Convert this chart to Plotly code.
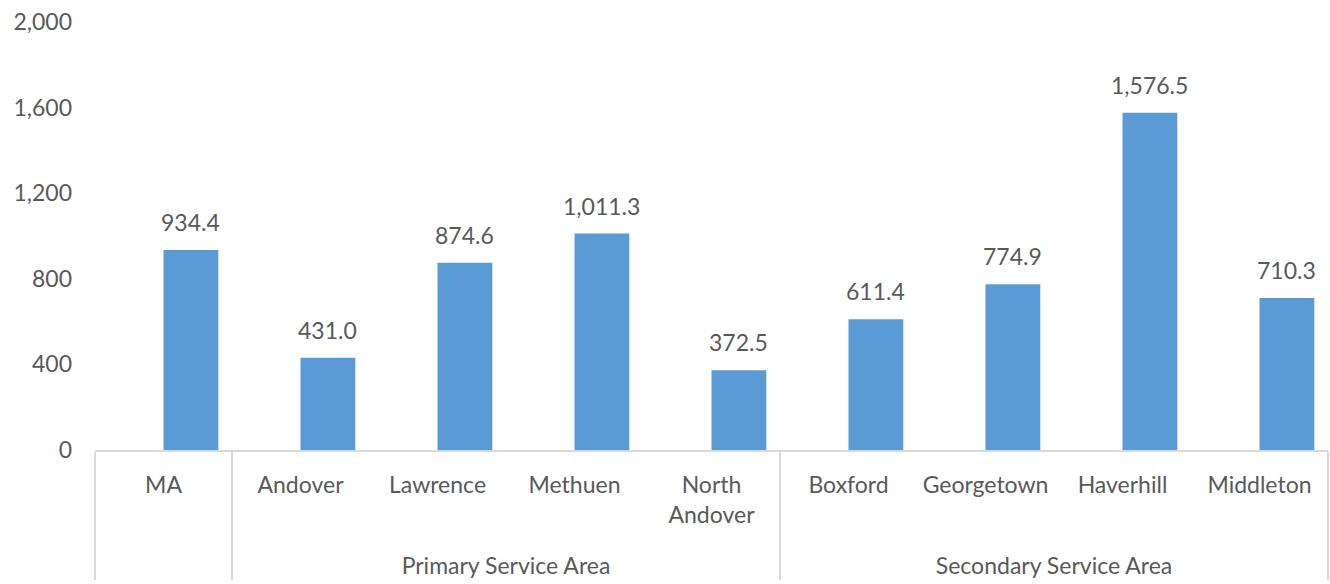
import plotly.graph_objects as go

# Service-area groups, towns and their values
groups = ["", "Primary Service Area", "Primary Service Area", "Primary Service Area",
          "Primary Service Area", "Secondary Service Area", "Secondary Service Area",
          "Secondary Service Area", "Secondary Service Area"]
towns = ["MA", "Andover", "Lawrence", "Methuen",
         "North<br>Andover<br><span style='font-size:48px'>\u00a0</span>",
         "Boxford", "Georgetown", "Haverhill", "Middleton"]
values = [934.4, 431.0, 874.6, 1011.3, 372.5, 611.4, 774.9, 1576.5, 710.3]
y_ticks = [0, 400, 800, 1200, 1600, 2000]

BAR_COLOR = "#5B9BD5"
TEXT_COLOR = "#595959"
LINE_COLOR = "#D9D9D9"
FONT = "Lato"
FS = 23

BAR_OFFSET = 0.0
BAR_WIDTH = 0.4

fig = go.Figure(
    go.Bar(
        x=[groups, towns],
        y=values,
        marker=dict(color=BAR_COLOR, line=dict(width=0)),
        offset=BAR_OFFSET,
        width=BAR_WIDTH,
        hoverinfo="skip",
    )
)

# value labels above each bar
for i, v in enumerate(values):
    fig.add_annotation(
        x=i + BAR_OFFSET + BAR_WIDTH / 2,
        y=v,
        text=f"{v:,.1f}",
        showarrow=False,
        yanchor="middle",
        yshift=28,
        font=dict(family=FONT, size=FS, color=TEXT_COLOR),
    )

fig.update_layout(
    width=1330,
    height=584,
    margin=dict(l=95, r=2, t=22, b=134),
    paper_bgcolor="white",
    plot_bgcolor="white",
    showlegend=False,
    font=dict(family=FONT, size=FS, color=TEXT_COLOR),
    bargap=0.6,
)

fig.update_xaxes(
    type="multicategory",
    range=[-0.5, len(values) - 0.5],
    showline=True,
    linecolor=LINE_COLOR,
    linewidth=1.5,
    showgrid=False,
    ticks="",
    ticklabelstandoff=14,
    showdividers=True,
    dividercolor=LINE_COLOR,
    dividerwidth=1.5,
    tickfont=dict(family=FONT, size=FS, color=TEXT_COLOR),
    automargin=False,
)

fig.update_yaxes(
    range=[0, 2000],
    tickvals=y_ticks,
    ticktext=[f"{t:,}" for t in y_ticks],
    showgrid=False,
    showline=False,
    zeroline=False,
    ticks="",
    ticklabelstandoff=22,
    tickfont=dict(family=FONT, size=FS, color=TEXT_COLOR),
    automargin=False,
)

fig.write_html("out.html")
